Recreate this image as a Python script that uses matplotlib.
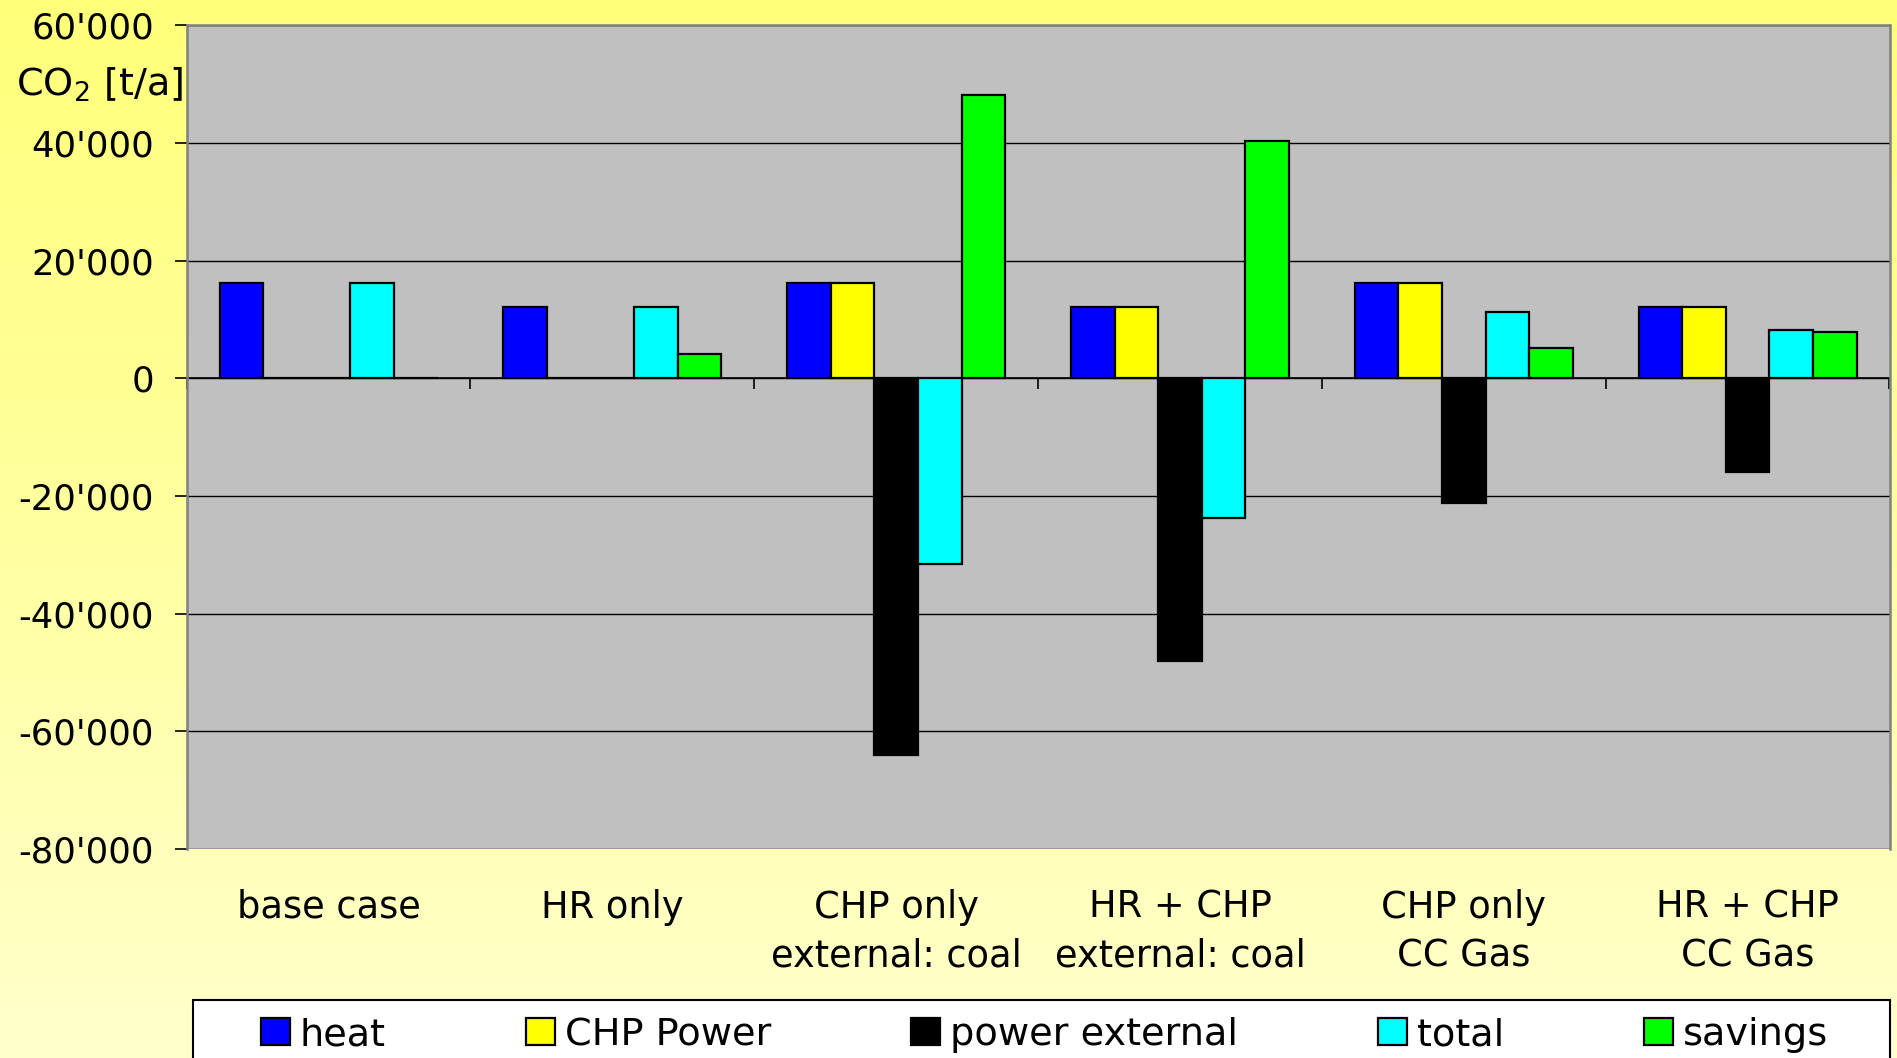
import numpy as np
import matplotlib
matplotlib.use("Agg")
import matplotlib.pyplot as plt
from matplotlib.colors import LinearSegmentedColormap
from matplotlib.patches import Rectangle
from matplotlib.ticker import FuncFormatter, FixedLocator
import matplotlib.transforms as mtransforms

plt.rcParams['font.family'] = ['DejaVu Sans']

categories = ["base case", "HR only", "CHP only\nexternal: coal", "HR + CHP\nexternal: coal",
              "CHP only\nCC Gas", "HR + CHP\nCC Gas"]
series_names = ["heat", "CHP Power", "power external", "total", "savings"]
heat = [16200, 12200, 16200, 12200, 16200, 12200]
chp_power = [0, 0, 16200, 12200, 16200, 12200]
power_external = [0, 0, -64000, -48000, -21200, -16000]
total = [16200, 12200, -31600, -23700, 11200, 8200]
savings = [0, 4200, 48200, 40300, 5200, 7900]
series_values = [heat, chp_power, power_external, total, savings]
colors = ["#0000FF", "#FFFF00", "#000000", "#00FFFF", "#00FF00"]
y_ticks = [-80000, -60000, -40000, -20000, 0, 20000, 40000, 60000]

W, H = 1897, 1058
fig = plt.figure(figsize=(W / 100, H / 100), dpi=100)

# background gradient
bg = fig.add_axes([0, 0, 1, 1], zorder=-10)
cmap = LinearSegmentedColormap.from_list("bg", ["#FFFF7A", "#FFFFA0", "#FFFFCC"])
grad = np.linspace(0, 1, 256).reshape(-1, 1)
bg.imshow(grad, aspect="auto", cmap=cmap, extent=[0, 1, 0, 1], origin="upper")
bg.set_axis_off()

left, right = 186.7 / W, 1889.5 / W
top, bottom = 25.4 / H, 848.9 / H
ax = fig.add_axes([left, 1 - bottom, right - left, bottom - top])
ax.set_facecolor("#C0C0C0")

n_groups = len(categories)
n_series = len(series_names)
bar_w = 0.1535
x = np.arange(n_groups)
for i, (name, vals, c) in enumerate(zip(series_names, series_values, colors)):
    offs = (i - (n_series - 1) / 2) * bar_w
    ax.bar(x + offs, vals, width=bar_w, color=c, edgecolor="black", linewidth=1.6,
           label=name, zorder=3)

ax.set_xlim(-0.5, n_groups - 0.5)
ax.set_ylim(-80000, 60000)
ax.yaxis.set_major_locator(FixedLocator(y_ticks))
ax.yaxis.set_major_formatter(FuncFormatter(lambda v, p: f"{int(v):,}".replace(",", "'")))
ax.grid(axis="y", color="black", linewidth=1.0, zorder=1)
ax.set_axisbelow(True)

for s in ["left", "right", "top"]:
    ax.spines[s].set_color("#808080")
    ax.spines[s].set_linewidth(1.8)
ax.spines["bottom"].set_position(("data", 0))
ax.spines["bottom"].set_color("black")
ax.spines["bottom"].set_linewidth(1.2)
ax.spines["bottom"].set_zorder(2)

ax.set_xticks(np.arange(n_groups + 1) - 0.5)
ax.set_xticklabels([])
ax.tick_params(axis="x", direction="out", length=8, width=1.2, color="black")
ax.tick_params(axis="y", direction="out", length=8.6, width=1.2, color="black",
               labelsize=25.5, pad=15)

trans = mtransforms.blended_transform_factory(ax.transData, fig.transFigure)
for xi, lab in zip(x, categories):
    ax.text(xi, 1 - 889 / H, lab, transform=trans, ha="center", va="top",
            fontsize=26.5, linespacing=1.38)

fig.text(16 / W, 1 - 85 / H, r"CO$_{\mathregular{2}}$ [t/a]", fontsize=27.5,
         ha="left", va="center")

# legend frame
fig.patches.append(Rectangle((193 / W, -0.05), (1890 - 193) / W, 0.05 + (1058 - 999.5) / H,
                             transform=fig.transFigure, facecolor="white",
                             edgecolor="black", linewidth=1.5, zorder=5))
handles, labels = ax.get_legend_handles_labels()
leg = fig.legend(handles, labels, loc="center left", bbox_to_anchor=(261 / W, 1 - 1035 / H),
                 ncol=5, frameon=False, fontsize=27.5, borderaxespad=0, borderpad=0,
                 handlelength=0.76, handleheight=0.73, handletextpad=0.26,
                 columnspacing=3.66)
leg.set_zorder(6)

fig.savefig("out.png", dpi=100)
